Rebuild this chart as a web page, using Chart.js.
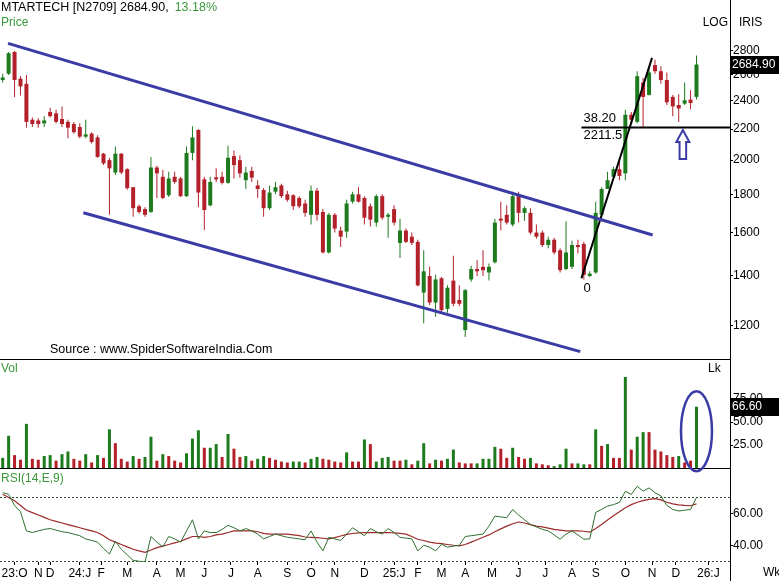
<!DOCTYPE html>
<html>
<head>
<meta charset="utf-8">
<script src="https://cdn.jsdelivr.net/npm/chart.js@4.4.1/dist/chart.umd.min.js"></script>
<style>
  html, body { margin: 0; padding: 0; background: #fff; }
  #wrap { width: 779px; height: 581px; }
</style>
</head>
<body>
<div id="wrap"><canvas id="chart" width="779" height="581"></canvas></div>
<script>
// weekly candles, index 0 = first week of Oct 2023
var opens = [2560, 2610, 2790, 2570, 2530, 2265, 2260, 2240, 2320, 2310,
  2270, 2250, 2235, 2215, 2150, 2170, 2145, 2040, 2000, 1925,
  2040, 1945, 1840, 1735, 1720, 1705, 1955, 1900, 1795, 1900,
  1890, 1790, 2045, 2195, 1885, 1740, 1895, 1900, 1865, 2025,
  2000, 1880, 1935, 1850, 1824, 1725, 1815, 1850, 1800, 1795,
  1780, 1750, 1690, 1820, 1705, 1505, 1690, 1610, 1605, 1760,
  1800, 1780, 1735, 1650, 1790, 1680, 1720, 1550, 1610, 1580,
  1555, 1330, 1400, 1290, 1390, 1265, 1380, 1300, 1185, 1385,
  1430, 1440, 1415, 1460, 1670, 1690, 1640, 1790, 1700, 1700,
  1600, 1600, 1540, 1565, 1515, 1430, 1440, 1540, 1545, 1400,
  1415, 1690, 1830, 1900, 1945, 1920, 2300, 2250, 2540, 2445,
  2680, 2630, 2560, 2430, 2370, 2380, 2410, 2430];
var highs = [2610, 2790, 2800, 2590, 2600, 2280, 2275, 2290, 2350, 2335,
  2360, 2265, 2250, 2240, 2265, 2180, 2160, 2045, 2015, 2085,
  2045, 1950, 1840, 1745, 1730, 2020, 1965, 1940, 1930, 1930,
  1900, 2085, 2220, 2200, 1900, 1900, 1950, 1930, 2090, 2060,
  2030, 1960, 1960, 1880, 1835, 1850, 1870, 1860, 1820, 1800,
  1790, 1770, 1850, 1835, 1720, 1700, 1700, 1630, 1770, 1815,
  1840, 1790, 1750, 1800, 1800, 1700, 1740, 1670, 1620, 1600,
  1565, 1515, 1440, 1405, 1395, 1360, 1490, 1360, 1345, 1445,
  1470, 1515, 1455, 1670, 1760, 1740, 1815, 1815, 1735, 1725,
  1640, 1610, 1580, 1575, 1525, 1655, 1560, 1565, 1555, 1420,
  1760, 1840, 1930, 1960, 2000, 2335, 2320, 2630, 2575, 2660,
  2725, 2670, 2620, 2445, 2450, 2540, 2480, 2760];
var lows = [2540, 2600, 2430, 2440, 2210, 2215, 2210, 2215, 2280, 2240,
  2215, 2140, 2170, 2140, 2140, 2105, 2015, 1970, 1690, 1910,
  1915, 1825, 1680, 1695, 1680, 1700, 1780, 1775, 1785, 1860,
  1785, 1785, 2000, 1730, 1613, 1735, 1870, 1855, 1860, 1890,
  1895, 1830, 1870, 1780, 1680, 1715, 1800, 1780, 1760, 1715,
  1725, 1680, 1640, 1660, 1500, 1500, 1600, 1530, 1575, 1750,
  1755, 1640, 1630, 1630, 1665, 1575, 1635, 1480, 1550, 1540,
  1355, 1210, 1280, 1235, 1250, 1250, 1275, 1275, 1160, 1375,
  1400, 1400, 1380, 1455, 1610, 1640, 1630, 1650, 1660, 1590,
  1570, 1530, 1525, 1495, 1415, 1425, 1430, 1500, 1385, 1395,
  1410, 1680, 1830, 1890, 1880, 1880, 2245, 2240, 2210, 2440,
  2610, 2530, 2370, 2290, 2250, 2370, 2340, 2410];
var closes = [2580, 2780, 2560, 2510, 2250, 2235, 2235, 2260, 2290, 2250,
  2235, 2210, 2180, 2150, 2165, 2115, 2020, 1980, 1950, 2040,
  1925, 1835, 1725, 1705, 1690, 1955, 1920, 1780, 1890, 1870,
  1790, 2045, 2145, 1810, 1715, 1870, 1885, 1865, 2015, 1970,
  1920, 1925, 1895, 1830, 1725, 1810, 1840, 1790, 1770, 1735,
  1735, 1700, 1820, 1690, 1505, 1690, 1620, 1580, 1750, 1800,
  1760, 1675, 1665, 1790, 1675, 1690, 1650, 1610, 1555, 1550,
  1360, 1420, 1290, 1385, 1260, 1350, 1285, 1285, 1340, 1430,
  1420, 1425, 1440, 1650, 1660, 1650, 1790, 1700, 1725, 1600,
  1580, 1540, 1565, 1505, 1425, 1505, 1540, 1530, 1405, 1410,
  1700, 1830, 1880, 1945, 1905, 2300, 2265, 2590, 2430, 2620,
  2630, 2560, 2390, 2360, 2345, 2405, 2385, 2684.90];

// volume in lakh, and whether the bar is drawn as an up bar
var volumes = [11, 35, 14, 9, 48, 10, 9, 13, 14, 8,
  15, 18, 10, 8, 15, 6, 14, 11, 42, 27,
  10, 7, 13, 10, 12, 34, 8, 15, 13, 8,
  6, 16, 32, 41, 22, 22, 26, 12, 37, 21,
  12, 13, 8, 10, 13, 11, 9, 7, 6, 7,
  7, 6, 10, 12, 10, 9, 7, 6, 17, 7,
  7, 31, 26, 7, 11, 12, 8, 8, 9, 4,
  8, 27, 5, 9, 8, 10, 20, 6, 5, 5,
  5, 10, 10, 23, 21, 11, 22, 12, 10, 11,
  5, 4, 3, 2, 4, 21, 5, 5, 4, 4,
  42, 24, 26, 11, 11, 99, 20, 34, 39, 39,
  20, 18, 14, 12, 13, 6, 8, 66.60];
var volUp = [1, 1, 0, 0, 1, 0, 0, 1, 1, 0,
  1, 1, 0, 0, 1, 0, 1, 0, 1, 0,
  0, 0, 1, 0, 1, 1, 0, 1, 0, 0,
  0, 1, 1, 1, 0, 1, 1, 0, 1, 0,
  0, 1, 0, 1, 1, 0, 0, 0, 0, 1,
  1, 0, 1, 1, 0, 0, 0, 0, 1, 0,
  0, 1, 0, 1, 1, 1, 0, 0, 1, 0,
  1, 1, 0, 1, 0, 1, 1, 0, 0, 0,
  1, 1, 1, 1, 0, 0, 1, 0, 0, 1,
  0, 0, 0, 1, 1, 1, 0, 1, 1, 0,
  1, 0, 1, 0, 0, 1, 0, 1, 1, 0,
  0, 0, 0, 0, 1, 0, 0, 1];

// RSI(14) and its 9 period average
var rsi = [73, 72, 65, 61, 49, 48, 49, 50, 50.5, 49.5,
  48.5, 48, 47, 46, 44, 43, 42, 38, 34.5, 42.5,
  37.5, 34, 30.5, 30, 29.5, 45.5, 42, 39, 45.5, 44,
  42, 49, 56, 44, 49, 48, 48, 50, 52.5, 51,
  49, 50.5, 49, 47, 44, 45.5, 47, 46, 45, 44.5,
  44, 43.5, 49, 42, 36.5, 45, 44, 43, 47, 51,
  48.5, 46, 50.5, 48.5, 47, 50.5, 48, 45, 44.5, 44,
  36.5, 40, 38.8, 36.5, 40.6, 38.8, 39.5, 40, 45.5, 46,
  46.5, 47, 52, 58.3, 57.8, 57.3, 62.5, 59, 56, 53,
  51.5, 50, 49, 46.5, 43.8, 47, 49, 46.5, 43.8, 44,
  60.6, 62.5, 64.6, 65.5, 66.9, 73.9, 71.9, 77, 74, 76,
  73, 71, 65, 62.5, 61.5, 62, 62.5, 70];
var rsiAvg = [72, 70, 68, 65, 62, 60.5, 59, 57.5, 56, 55,
  54, 53, 52, 51, 50, 49, 48, 46, 43.5, 42,
  40.5, 39, 37.5, 36.5, 35.6, 37, 38.5, 39.5, 40.5, 41.5,
  42.5, 44, 45.5, 45.5, 45, 45.5, 46.5, 47, 48, 49,
  49, 49, 49, 48.5, 47.5, 47, 47, 47, 47, 46.5,
  46, 45.2, 45, 44.8, 44.4, 44, 44.8, 45.8, 46.8, 47.4,
  47.8, 48, 48, 48, 48, 48, 47.8, 47.5, 47, 45.5,
  43.8, 43, 42, 41.4, 41, 40.5, 40, 39.6, 40.5, 42,
  43.5, 45, 46.5, 48.5, 50.3, 52, 53.5, 54.6, 54, 53,
  52, 51.5, 50.8, 50, 49.5, 49, 49, 49, 48.8, 48.2,
  50.5, 53, 55.8, 58.5, 61, 63.5, 65.5, 67, 68, 68.8,
  69.3, 68.5, 67, 66, 65.3, 65, 64.8, 66];

// axis labels
var monthLabels = ['23:O', 'N', 'D', '24:J', 'F', 'M', 'A', 'M', 'J', 'J', 'A', 'S', 'O', 'N', 'D',
  '25:J', 'F', 'M', 'A', 'M', 'J', 'J', 'A', 'S', 'O', 'N', 'D', '26:J'];
var monthTickIdx = [2, 6, 8, 13, 16.6, 21, 26, 30, 34, 38.5, 43, 48, 52, 56, 61,
  66, 70, 74, 78, 82.5, 87, 91.5, 96, 100, 105, 109.5, 113.5, 119];
var priceTicks = [1200, 1400, 1600, 1800, 2000, 2200, 2400, 2600, 2800];
var volTicks = [25, 50, 75];
var rsiTicks = [40, 60];
var rsiLevels = [70, 30];

// drawn studies, as (week index, price)
var upperChannel = [{x: 0.9, y: 2866}, {x: 109.6, y: 1588}];
var lowerChannel = [{x: 13.6, y: 1701}, {x: 97.4, y: 1109}];
var swingLine = [{x: 97.6, y: 1390}, {x: 109.5, y: 2740}];
var fibLevel = 2211.5;
var fibRatio = '38.20';
var arrowAt = {x: 114.7, top: 2194, bottom: 2007};
var changePct = '13.18%';

var xMin = -0.455, xMax = 122.65;
var green = '#1d7b1d', red = '#b3202a', blue = '#3b3ba6';

Chart.defaults.font.family = "'Liberation Sans', Arial, sans-serif";
Chart.defaults.font.size = 12;
Chart.defaults.color = '#000';

function pts(arr) {
    return arr.map(function (v, i) { return {x: i, y: v}; });
}
var candleColors = closes.map(function (c, i) { return c >= opens[i] ? green : red; });

function fitY(s) {
    s.width = 49;
    s.paddingTop = 0;
    s.paddingBottom = 0;
}

var studies = {
    id: 'studies',
    beforeDatasetsDraw: function (chart) {
        var ctx = chart.ctx, a = chart.chartArea, yR = chart.scales.yRsi;
        ctx.save();
        ctx.strokeStyle = '#2c4a2c';
        ctx.lineWidth = 1;
        ctx.setLineDash([2, 2]);
        rsiLevels.forEach(function (lv) {
            var y = Math.round(yR.getPixelForValue(lv)) + 0.5;
            ctx.beginPath();
            ctx.moveTo(a.left, y);
            ctx.lineTo(a.right, y);
            ctx.stroke();
        });
        ctx.restore();
    },
    afterDraw: function (chart) {
        var ctx = chart.ctx, a = chart.chartArea;
        var sx = chart.scales.x, yP = chart.scales.yPrice, yV = chart.scales.yVol, yR = chart.scales.yRsi;
        var last = closes.length - 1;
        ctx.save();

        // panel frame
        ctx.strokeStyle = '#000';
        ctx.lineWidth = 1;
        ctx.beginPath();
        [yV.top, yR.top].forEach(function (t) {
            var y = Math.round(t) + 0.5;
            ctx.moveTo(a.left, y);
            ctx.lineTo(a.right, y);
        });
        ctx.moveTo(Math.round(a.right) + 0.5, 0);
        ctx.lineTo(Math.round(a.right) + 0.5, chart.height);
        ctx.stroke();

        ctx.textBaseline = 'middle';
        ctx.textAlign = 'left';

        // header
        ctx.font = "12.5px 'Liberation Sans', Arial";
        ctx.fillStyle = '#000';
        var head = 'MTARTECH [N2709] ' + closes[last].toFixed(2) + ',';
        ctx.fillText(head, 1, 8);
        ctx.fillStyle = '#3a983a';
        ctx.fillText(changePct, 1 + ctx.measureText(head).width + 6, 8);
        ctx.font = "12px 'Liberation Sans', Arial";
        ctx.fillText('Price', 1, 23);
        ctx.fillStyle = '#000';
        ctx.textAlign = 'right';
        ctx.fillText('LOG', a.right - 2, 23);
        ctx.textAlign = 'left';
        ctx.fillText('IRIS', a.right + 9, 23);

        // panel captions
        ctx.fillStyle = '#3a983a';
        ctx.fillText('Vol', 1, yV.top + 10);
        ctx.fillText('RSI(14,E,9)', 1, yR.top + 11);
        ctx.fillStyle = '#000';
        ctx.fillText('Lk', a.right - 22, yV.top + 10);
        ctx.fillText('Wk', a.right + 33, sx.top + 11);
        ctx.font = "12.5px 'Liberation Sans', Arial";
        ctx.fillText('Source : www.SpiderSoftwareIndia.Com', 50, yV.top - 9);

        // fib marks
        var fx = sx.getPixelForValue(swingLine[0].x);
        var fy = yP.getPixelForValue(fibLevel);
        ctx.font = "13px 'Liberation Sans', Arial";
        ctx.fillText(fibRatio, fx + 2, fy - 9);
        ctx.fillText(fibLevel.toFixed(1), fx + 2, fy + 8);
        ctx.fillText('0', fx + 2, yP.getPixelForValue(swingLine[0].y) + 10);

        // last value boxes
        ctx.font = "12px 'Liberation Sans', Arial";
        function valueBox(text, y) {
            ctx.fillStyle = '#000';
            ctx.fillRect(a.right + 1, Math.round(y) - 9, chart.width - a.right - 1, 18);
            ctx.fillStyle = '#fff';
            ctx.fillText(text, a.right + 2, y);
        }
        valueBox(closes[last].toFixed(2), yP.getPixelForValue(closes[last]));
        valueBox(volumes[last].toFixed(2), yV.getPixelForValue(volumes[last]));

        // arrow under the retracement line
        var cx = sx.getPixelForValue(arrowAt.x);
        var top = yP.getPixelForValue(arrowAt.top), bot = yP.getPixelForValue(arrowAt.bottom);
        var hb = top + 12;
        ctx.beginPath();
        ctx.moveTo(cx, top);
        ctx.lineTo(cx + 6.5, hb);
        ctx.lineTo(cx + 3.3, hb);
        ctx.lineTo(cx + 3.3, bot);
        ctx.lineTo(cx - 3.3, bot);
        ctx.lineTo(cx - 3.3, hb);
        ctx.lineTo(cx - 6.5, hb);
        ctx.closePath();
        ctx.fillStyle = '#fff';
        ctx.fill();
        ctx.strokeStyle = blue;
        ctx.lineWidth = 2;
        ctx.stroke();

        // ring round the last volume bar
        var ex = sx.getPixelForValue(last);
        var ey = yV.getPixelForValue(40);
        ctx.beginPath();
        ctx.ellipse(ex, ey, 15.5, 40, 0, 0, Math.PI * 2);
        ctx.lineWidth = 2.5;
        ctx.stroke();

        ctx.restore();
    }
};

var ctx = document.getElementById('chart').getContext('2d');
var myChart = new Chart(ctx, {
    type: 'bar',
    data: {
        datasets: [{
            type: 'line',
            data: upperChannel,
            yAxisID: 'yPrice',
            borderColor: blue,
            borderWidth: 3,
            pointRadius: 0,
        }, {
            type: 'line',
            data: lowerChannel,
            yAxisID: 'yPrice',
            borderColor: blue,
            borderWidth: 3,
            pointRadius: 0,
        }, {
            type: 'line',
            data: swingLine,
            yAxisID: 'yPrice',
            borderColor: '#000',
            borderWidth: 2,
            pointRadius: 0,
        }, {
            type: 'line',
            data: [{x: swingLine[0].x, y: fibLevel}, {x: xMax, y: fibLevel}],
            yAxisID: 'yPrice',
            borderColor: '#000',
            borderWidth: 2,
            pointRadius: 0,
        }, {
            type: 'line',
            data: pts(rsi),
            yAxisID: 'yRsi',
            borderColor: '#2f6f2f',
            borderWidth: 1,
            pointRadius: 0,
        }, {
            type: 'line',
            data: pts(rsiAvg),
            yAxisID: 'yRsi',
            borderColor: '#9b2b2b',
            borderWidth: 1.2,
            pointRadius: 0,
        }, {
            // candle bodies
            data: opens.map(function (o, i) { return {x: i, y: [o, closes[i]]}; }),
            yAxisID: 'yPrice',
            backgroundColor: candleColors,
            barThickness: 4,
            minBarLength: 2,
            inflateAmount: 0,
        }, {
            // wicks
            data: lows.map(function (l, i) { return {x: i, y: [l, highs[i]]}; }),
            yAxisID: 'yPrice',
            backgroundColor: candleColors,
            barThickness: 1,
            inflateAmount: 0,
        }, {
            data: pts(volumes),
            yAxisID: 'yVol',
            backgroundColor: volUp.map(function (u) { return u ? green : red; }),
            barThickness: 3,
            inflateAmount: 0,
        }],
    },
    options: {
        responsive: false,
        animation: false,
        devicePixelRatio: 1,
        events: [],
        layout: { padding: 0 },
        datasets: { bar: { grouped: false } },
        plugins: {
            legend: { display: false },
            tooltip: { enabled: false },
        },
        scales: {
            x: {
                type: 'linear',
                min: xMin,
                max: xMax,
                bounds: 'data',
                offset: false,
                afterBuildTicks: function (s) {
                    s.ticks = monthTickIdx.map(function (v) { return {value: v}; });
                },
                afterFit: function (s) {
                    s.height = 19;
                    s.paddingLeft = 0;
                    s.paddingRight = 0;
                },
                ticks: {
                    autoSkip: false,
                    maxRotation: 0,
                    minRotation: 0,
                    padding: 1,
                    callback: function (v, i) { return monthLabels[i]; },
                },
                grid: { drawOnChartArea: false, tickLength: 3, color: '#000', offset: false },
                border: { display: false },
            },
            yPrice: {
                type: 'logarithmic',
                position: 'right',
                stack: 'panes',
                stackWeight: 359,
                min: 1084,
                max: 3275,
                bounds: 'data',
                afterBuildTicks: function (s) {
                    s.ticks = priceTicks.map(function (v) { return {value: v}; });
                },
                afterFit: fitY,
                ticks: { autoSkip: false, padding: 0, callback: function (v) { return String(v); } },
                grid: { drawOnChartArea: false, tickLength: 3, color: '#000' },
                border: { color: '#000' },
            },
            yVol: {
                type: 'linear',
                position: 'right',
                stack: 'panes',
                stackWeight: 109,
                min: 0,
                max: 118.5,
                bounds: 'data',
                afterBuildTicks: function (s) {
                    s.ticks = volTicks.map(function (v) { return {value: v}; });
                },
                afterFit: fitY,
                ticks: { autoSkip: false, padding: 0, callback: function (v) { return v.toFixed(2); } },
                grid: { drawOnChartArea: false, tickLength: 3, color: '#000' },
                border: { color: '#000' },
            },
            yRsi: {
                type: 'linear',
                position: 'right',
                stack: 'panes',
                stackWeight: 94,
                min: 29.5,
                max: 88.5,
                bounds: 'data',
                afterBuildTicks: function (s) {
                    s.ticks = rsiTicks.map(function (v) { return {value: v}; });
                },
                afterFit: fitY,
                ticks: { autoSkip: false, padding: 0, callback: function (v) { return v.toFixed(2); } },
                grid: { drawOnChartArea: false, tickLength: 3, color: '#000' },
                border: { color: '#000' },
            },
        },
    },
    plugins: [studies],
});
</script>
</body>
</html>
